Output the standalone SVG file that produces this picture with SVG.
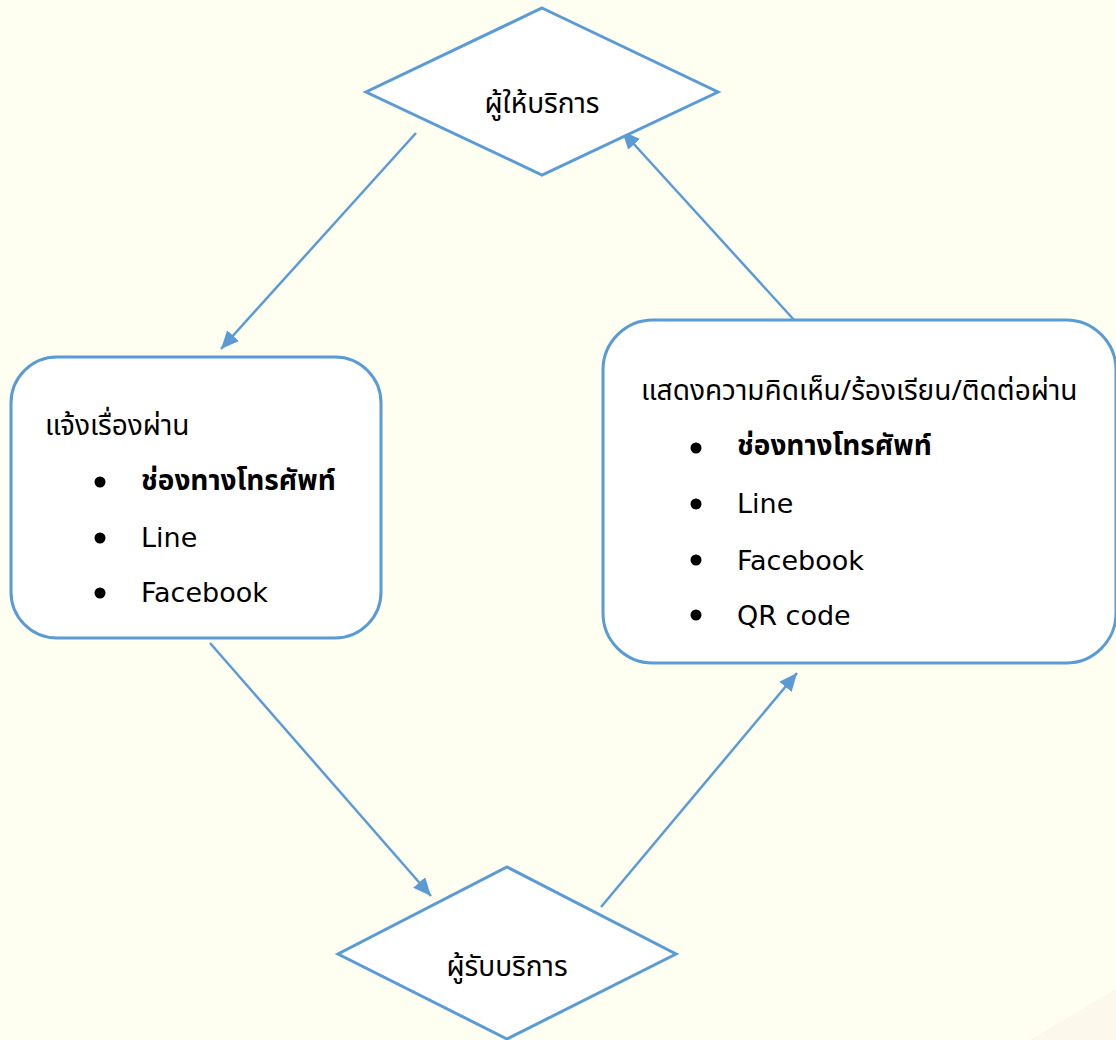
<svg xmlns="http://www.w3.org/2000/svg" width="1116" height="1040" viewBox="0 0 1116 1040">
<defs>
<style>
.node{fill:#FFFFFF;stroke:#5B9BD5;stroke-width:3}
.conn{stroke:#5B9BD5;stroke-width:2.5;fill:none}
.t{font-family:"Noto Sans Thai","Noto Sans","DejaVu Sans",sans-serif;fill:#000000}
.h{font-size:28px}
.b{font-size:28px;font-weight:bold}
.l{font-family:"DejaVu Sans",sans-serif;font-size:27px;fill:#000000}
</style>
<marker id="arr" markerUnits="userSpaceOnUse" markerWidth="20" markerHeight="16" refX="18" refY="8" orient="auto">
<path d="M0,0 L18,8 L0,16 Z" fill="#5B9BD5"/>
</marker>
</defs>
<rect width="1116" height="1040" fill="#FEFEF1"/>
<polygon points="1030,1040 1116,989 1116,1040" fill="#FDF8EC"/>
<g id="connectors">
<line class="conn" x1="416" y1="133" x2="221" y2="349" marker-end="url(#arr)"/>
<line class="conn" x1="210" y1="643" x2="431" y2="896" marker-end="url(#arr)"/>
<line class="conn" x1="601" y1="907" x2="797" y2="673" marker-end="url(#arr)"/>
<line class="conn" x1="795" y1="321" x2="622" y2="131" marker-end="url(#arr)"/>
</g>
<g id="provider">
<polygon class="node" points="542,8 718,92 542,175 366,92"/>
<text class="t h" x="542" y="113" text-anchor="middle">ผู้ให้บริการ</text>
</g>
<g id="report">
<rect class="node" x="11" y="357" width="370" height="281" rx="46" ry="46"/>
<text class="t h" x="45" y="435">แจ้งเรื่องผ่าน</text>
<circle cx="100" cy="482" r="5.5"/>
<text class="t b" x="141" y="490">ช่องทางโทรศัพท์</text>
<circle cx="100" cy="538" r="5.5"/>
<text class="l" x="141" y="547">Line</text>
<circle cx="100" cy="593" r="5.5"/>
<text class="l" x="141" y="602">Facebook</text>
</g>
<g id="feedback">
<rect class="node" x="603" y="320" width="513" height="343" rx="50" ry="50"/>
<text class="t h" x="641" y="400">แสดงความคิดเห็น/ร้องเรียน/ติดต่อผ่าน</text>
<circle cx="696" cy="448" r="5.5"/>
<text class="t b" x="737" y="455">ช่องทางโทรศัพท์</text>
<circle cx="696" cy="504" r="5.5"/>
<text class="l" x="737" y="513">Line</text>
<circle cx="696" cy="560" r="5.5"/>
<text class="l" x="737" y="570">Facebook</text>
<circle cx="696" cy="615" r="5.5"/>
<text class="l" x="737" y="625">QR code</text>
</g>
<g id="recipient">
<polygon class="node" points="507,867 676,954 507,1039 338,954"/>
<text class="t h" x="507" y="976" text-anchor="middle">ผู้รับบริการ</text>
</g>
</svg>
